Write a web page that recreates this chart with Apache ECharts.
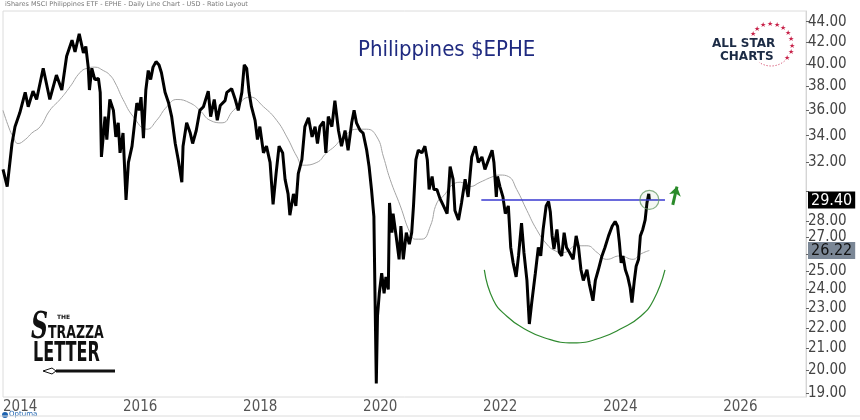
<!DOCTYPE html>
<html>
<head>
<meta charset="utf-8">
<title>Philippines $EPHE</title>
<script src="https://cdn.jsdelivr.net/npm/echarts@6/dist/echarts.min.js"></script>
<style>
html, body { margin: 0; padding: 0; background: #fff; }
#chart { width: 860px; height: 420px; }
</style>
</head>
<body>
<div id="chart"></div>
<script>
// EPHE closes (decimal years)
var priceDates = [2014.00, 2014.07, 2014.15, 2014.20, 2014.28, 2014.37, 2014.42, 2014.50, 2014.56, 2014.67, 2014.78, 2014.89, 2014.98,
	2015.06, 2015.15, 2015.20, 2015.27, 2015.34, 2015.38, 2015.42, 2015.44, 2015.48, 2015.53, 2015.59, 2015.62, 2015.64, 2015.70, 2015.73, 2015.78, 2015.84, 2015.88, 2015.92, 2015.95,
	2016.00, 2016.02, 2016.05, 2016.09, 2016.15, 2016.23, 2016.27, 2016.30, 2016.34, 2016.38, 2016.42, 2016.46, 2016.50, 2016.55, 2016.60, 2016.64, 2016.70, 2016.76, 2016.81, 2016.87, 2016.92, 2016.98,
	2017.00, 2017.06, 2017.12, 2017.16, 2017.22, 2017.28, 2017.34, 2017.42, 2017.46, 2017.52, 2017.57, 2017.62, 2017.70, 2017.73, 2017.81, 2017.87, 2017.92, 2017.98,
	2018.02, 2018.06, 2018.10, 2018.14, 2018.20, 2018.24, 2018.28, 2018.34, 2018.39, 2018.45, 2018.50, 2018.55, 2018.60, 2018.66, 2018.70, 2018.75, 2018.78, 2018.84, 2018.88, 2018.92, 2018.98,
	2019.03, 2019.09, 2019.15, 2019.20, 2019.24, 2019.28, 2019.34, 2019.38, 2019.42, 2019.48, 2019.53, 2019.59, 2019.64, 2019.70, 2019.75, 2019.81, 2019.85, 2019.89, 2019.95,
	2020.00, 2020.06, 2020.10, 2020.14, 2020.18, 2020.20, 2020.22, 2020.24, 2020.27, 2020.31, 2020.35, 2020.38, 2020.42, 2020.44, 2020.48, 2020.50, 2020.55, 2020.60, 2020.63, 2020.67, 2020.72, 2020.77, 2020.81, 2020.84, 2020.88, 2020.92, 2020.98,
	2021.03, 2021.07, 2021.10, 2021.15, 2021.18, 2021.23, 2021.28, 2021.34, 2021.40, 2021.45, 2021.50, 2021.53, 2021.59, 2021.64, 2021.70, 2021.75, 2021.81, 2021.87, 2021.92, 2021.98,
	2022.03, 2022.09, 2022.15, 2022.18, 2022.22, 2022.24, 2022.28, 2022.33, 2022.37, 2022.42, 2022.46, 2022.50, 2022.55, 2022.59, 2022.64, 2022.68, 2022.73, 2022.77, 2022.81, 2022.87, 2022.92, 2022.96,
	2023.00, 2023.05, 2023.09, 2023.12, 2023.15, 2023.18, 2023.23, 2023.27, 2023.31, 2023.35, 2023.39, 2023.44, 2023.50, 2023.55, 2023.59, 2023.63, 2023.67, 2023.73, 2023.77, 2023.83, 2023.87, 2023.92, 2023.98,
	2024.03, 2024.09, 2024.15, 2024.20, 2024.24, 2024.27, 2024.30, 2024.33, 2024.37, 2024.41, 2024.45, 2024.48, 2024.52, 2024.55, 2024.59, 2024.62, 2024.66, 2024.70, 2024.73, 2024.76, 2024.77];
var priceValues = [31.5, 30.3, 33.4, 34.7, 35.8, 37.5, 36.3, 37.6, 36.9, 39.6, 36.9, 39.0, 37.7,
	40.7, 42.2, 41.1, 42.8, 41.0, 41.6, 39.7, 37.7, 39.6, 38.6, 38.7, 37.5, 32.4, 35.5, 33.7, 36.9, 36.0, 33.9, 35.0, 32.7,
	34.2, 32.2, 29.4, 32.0, 33.2, 36.6, 36.0, 37.1, 33.8, 37.7, 39.4, 38.6, 39.7, 40.2, 39.9, 39.2, 37.5, 36.6, 35.5, 33.4, 32.2, 30.6,
	33.2, 35.0, 34.2, 33.4, 34.4, 36.0, 36.3, 37.6, 35.5, 36.9, 35.2, 36.4, 36.8, 37.5, 37.8, 36.9, 36.0, 37.5,
	39.9, 39.6, 37.5, 36.3, 35.2, 33.7, 34.7, 32.7, 33.2, 32.0, 29.1, 31.2, 33.2, 32.7, 30.8, 29.8, 28.4, 29.8, 29.0, 31.2, 32.2,
	34.7, 35.4, 33.9, 34.7, 33.4, 34.7, 35.1, 32.7, 35.5, 34.7, 36.8, 34.4, 33.2, 34.4, 32.9, 35.0, 36.0, 35.0, 34.4,
	34.2, 32.9, 31.7, 30.1, 28.3, 23.4, 19.4, 22.6, 23.8, 24.9, 23.8, 24.7, 24.0, 29.2, 27.3, 28.5, 27.1, 25.7, 27.7, 25.7, 27.3, 26.6, 27.3, 29.0, 32.2, 32.9, 32.7,
	33.2, 32.2, 30.1, 31.0, 30.1, 30.1, 29.5, 29.0, 28.5, 31.7, 30.8, 28.7, 28.1, 29.2, 30.8, 29.6, 32.4, 33.2, 32.0, 32.4,
	31.5, 32.2, 32.9, 32.0, 29.6, 31.0, 30.3, 29.6, 28.5, 29.0, 26.4, 25.5, 24.7, 25.9, 27.9, 26.1, 24.5, 22.2, 23.3, 24.9, 26.4, 25.9,
	27.5, 29.0, 29.3, 28.6, 27.1, 26.3, 27.5, 26.1, 25.9, 27.3, 26.4, 26.1, 25.7, 27.1, 26.4, 25.1, 24.5, 25.1, 24.3, 23.4, 24.5, 25.1, 25.9,
	26.4, 27.1, 27.7, 28.0, 27.7, 26.7, 25.5, 25.9, 25.1, 24.7, 24.1, 23.3, 24.5, 25.3, 25.7, 27.1, 27.5, 28.1, 29.2, 29.8, 29.4];

// 200-day moving average (thin grey line)
var maDates = [2014.00, 2014.10, 2014.17, 2014.25, 2014.37, 2014.48, 2014.62, 2014.78, 2014.95, 2015.12, 2015.28, 2015.40, 2015.53, 2015.67, 2015.78, 2015.87,
	2016.00, 2016.17, 2016.40, 2016.56, 2016.73, 2016.90, 2017.12, 2017.28, 2017.45, 2017.65, 2017.84, 2018.12, 2018.34, 2018.56, 2018.73, 2018.90,
	2019.00, 2019.23, 2019.39, 2019.53, 2019.67, 2019.90, 2020.06, 2020.23, 2020.34, 2020.45, 2020.62, 2020.78, 2020.87, 2020.98,
	2021.12, 2021.23, 2021.37, 2021.45, 2021.62, 2021.78, 2021.95, 2022.17, 2022.28, 2022.42, 2022.56, 2022.73, 2022.89,
	2023.06, 2023.20, 2023.34, 2023.56, 2023.73, 2023.90, 2024.06, 2024.28, 2024.50, 2024.62, 2024.77];
var maValues = [36.0, 34.6, 33.9, 33.4, 33.7, 34.2, 34.7, 36.0, 36.9, 38.0, 39.2, 39.6, 39.7, 39.4, 39.0, 38.3,
	36.9, 35.5, 34.5, 35.2, 36.3, 36.9, 36.6, 36.0, 35.2, 35.0, 36.0, 37.1, 36.3, 35.2, 33.9, 32.4,
	31.8, 32.0, 32.7, 33.2, 33.9, 34.5, 34.5, 33.9, 32.4, 30.8, 29.0, 27.3, 26.9, 26.9,
	27.7, 29.2, 29.8, 30.3, 30.6, 30.3, 30.6, 31.0, 31.1, 31.0, 30.1, 28.7, 27.5,
	26.6, 26.2, 26.1, 26.5, 26.5, 26.1, 25.7, 25.9, 25.7, 26.0, 26.22];

// hand drawn annotations: cup (green arc), breakout level, arrow
var cupDates = [2022.02, 2022.17, 2022.40, 2022.67, 2023.03, 2023.50, 2023.95, 2024.32, 2024.62, 2024.84, 2025.03];
var cupValues = [25.09, 23.44, 22.58, 21.99, 21.51, 21.27, 21.51, 22.0, 22.58, 23.44, 25.09];
var breakoutLevel = 29.4;
var breakoutFrom = 2021.97, breakoutTo = 2025.03;
var arrowDates = [2025.16, 2025.23];
var arrowValues = [29.07, 30.3];

var yearLabels = [2014, 2016, 2018, 2020, 2022, 2024, 2026];
var priceTicks = [19, 20, 21, 22, 23, 24, 25, 27, 28, 32, 34, 36, 38, 40, 42, 44];
var yBottom = 18.82, yTop = 45.08;
var xStart = 2014, xEnd = 2027.38;

var narrow = '"Liberation Sans Narrow", "DejaVu Sans Condensed", sans-serif';

function pairs(xs, ys) {
	var out = [];
	for (var i = 0; i < xs.length; i++) {
		out.push([xs[i], Math.log(ys[i])]);
	}
	return out;
}

function starGraphics() {
	// red star ring of the All Star Charts logo
	var g = [];
	var cx = 771, cy = 45, r = 21;
	for (var a = -150; a <= 40; a += 19) {
		var rad = a * Math.PI / 180;
		g.push({
			type: 'text', x: cx + r * Math.cos(rad), y: cy + r * Math.sin(rad),
			style: { text: '★', fill: '#c8234a', fontSize: 7, align: 'center', verticalAlign: 'middle' }
		});
	}
	g.push({
		type: 'arc', shape: { cx: cx, cy: cy, r: r, startAngle: 50 * Math.PI / 180, endAngle: 125 * Math.PI / 180 },
		style: { stroke: '#c8234a', fill: null, lineWidth: 1, lineDash: [1, 2] }
	});
	return g;
}

function drawChart() {
	var myChart = echarts.init(document.getElementById('chart'));
	var lastPrice = priceValues[priceValues.length - 1];
	var lastMa = maValues[maValues.length - 1];
	var lastDate = priceDates[priceDates.length - 1];
	var lnLast = Math.log(lastPrice), lnMa = Math.log(lastMa);

	var labelVals = priceTicks.map(function (v) { return Math.log(v); });
	labelVals.push(lnMa);
	labelVals.push(lnLast);
	var tickVals = priceTicks.concat([26, 30]).map(function (v) { return Math.log(v); });

	var option = {
		animation: false,
		title: {
			text: 'Philippines $EPHE',
			left: 353,
			top: 34,
			textStyle: { color: '#1f2a80', fontSize: 22, fontWeight: 'normal', fontFamily: narrow }
		},
		grid: {
			left: 3, right: 54, top: 11, bottom: 23,
			show: true, borderColor: '#dcdcdc', borderWidth: 1
		},
		xAxis: {
			type: 'value',
			min: xStart,
			max: xEnd,
			axisLine: { show: false },
			axisTick: { show: false },
			splitLine: { show: false },
			axisLabel: {
				customValues: yearLabels,
				align: 'left',
				margin: 3,
				color: '#555',
				fontSize: 15,
				fontFamily: narrow,
				formatter: function (v) { return String(Math.round(v)); }
			}
		},
		yAxis: {
			type: 'value',
			position: 'right',
			min: Math.log(yBottom),
			max: Math.log(yTop),
			axisLine: { show: true, lineStyle: { color: '#d5d5d5' } },
			axisTick: { show: true, length: 3, customValues: tickVals, lineStyle: { color: '#666' } },
			splitLine: { show: false },
			axisLabel: {
				customValues: labelVals,
				margin: 2,
				color: '#444',
				fontSize: 15,
				fontFamily: narrow,
				formatter: function (v) {
					if (Math.abs(v - lnLast) < 1e-9) return '{last|' + lastPrice.toFixed(2) + '}';
					if (Math.abs(v - lnMa) < 1e-9) return '{ma|' + lastMa.toFixed(2) + '}';
					return Math.round(Math.exp(v)).toFixed(2);
				},
				rich: {
					last: { backgroundColor: '#000', color: '#fff', fontSize: 16, fontFamily: narrow, padding: [1, 3, 0, 3] },
					ma: { backgroundColor: '#7b8796', color: '#111', fontSize: 16, fontFamily: narrow, padding: [1, 3, 0, 3] }
				}
			}
		},
		graphic: [
			{ type: 'text', x: 5, y: 1, style: { text: 'iShares MSCI Philippines ETF - EPHE - Daily Line Chart - USD - Ratio Layout', fill: '#777', fontSize: 6.5, fontFamily: 'DejaVu Sans' } },
			{ type: 'text', x: 712, y: 38, style: { text: 'ALL STAR', fill: '#1c2b45', fontSize: 12, fontWeight: 'bold', fontFamily: 'DejaVu Sans' } },
			{ type: 'text', x: 720, y: 51, style: { text: 'CHARTS', fill: '#1c2b45', fontSize: 12, fontWeight: 'bold', fontFamily: 'DejaVu Sans' } },
			// The Strazza Letter logo
			{ type: 'text', x: 31, y: 309, scaleX: 0.62, style: { text: 'S', fill: '#111', fontSize: 38, fontStyle: 'italic', fontWeight: 'bold', fontFamily: 'DejaVu Serif' } },
			{ type: 'text', x: 57, y: 314, style: { text: 'THE', fill: '#111', fontSize: 6, fontWeight: 'bold', fontFamily: 'DejaVu Sans' } },
			{ type: 'text', x: 48, y: 325, scaleX: 0.82, style: { text: 'TRAZZA', fill: '#111', fontSize: 17, fontWeight: 'bold', fontFamily: narrow } },
			{ type: 'text', x: 33, y: 340, scaleX: 0.66, style: { text: 'LETTER', fill: '#111', fontSize: 27, fontWeight: 'bold', fontFamily: narrow } },
			{ type: 'polygon', shape: { points: [[43, 371], [52, 368], [56, 371], [52, 374]] }, style: { fill: '#fff', stroke: '#111', lineWidth: 1 } },
			{ type: 'line', shape: { x1: 56, y1: 371, x2: 115, y2: 371 }, style: { stroke: '#111', lineWidth: 3 } },
			{ type: 'circle', shape: { cx: 5, cy: 415, r: 3 }, style: { fill: '#1d63b0' } },
			{ type: 'text', x: 9, y: 411, style: { text: 'Optuma', fill: '#1d63b0', fontSize: 7, fontFamily: 'DejaVu Sans' } },
			{ type: 'line', shape: { x1: 0, y1: 416, x2: 860, y2: 416 }, style: { stroke: '#dcdcdc', lineWidth: 1 } }
		].concat(starGraphics()),
		series: [
			{
				name: 'MA',
				type: 'line',
				data: pairs(maDates, maValues),
				symbol: 'none',
				smooth: true,
				lineStyle: { color: '#a3a3a3', width: 1 },
				z: 2
			},
			{
				name: 'EPHE',
				type: 'line',
				data: pairs(priceDates, priceValues),
				symbol: 'none',
				lineStyle: { color: '#000', width: 3 },
				z: 3,
				markLine: {
					silent: true,
					symbol: ['none', 'none'],
					label: { show: false },
					lineStyle: { color: '#3838d0', width: 1.5, type: 'solid' },
					data: [
						[{ coord: [breakoutFrom, Math.log(breakoutLevel)] }, { coord: [breakoutTo, Math.log(breakoutLevel)] }]
					]
				}
			},
			{
				name: 'cup',
				type: 'line',
				data: pairs(cupDates, cupValues),
				symbol: 'none',
				smooth: true,
				clip: false,
				lineStyle: { color: '#2f8a2f', width: 1.2 },
				z: 4,
				markLine: {
					silent: true,
					symbol: ['none', 'arrow'],
					symbolSize: 9,
					label: { show: false },
					lineStyle: { color: '#2a8a2a', width: 3, type: 'solid' },
					data: [
						[{ coord: [arrowDates[0], Math.log(arrowValues[0])] }, { coord: [arrowDates[1], Math.log(arrowValues[1])] }]
					]
				}
			},
			{
				name: 'circle',
				type: 'scatter',
				data: [[lastDate, lnLast]],
				symbol: 'circle',
				symbolSize: 19,
				itemStyle: { color: 'rgba(80,150,80,0.08)', borderColor: '#6a9e6a', borderWidth: 1.2 },
				z: 5
			}
		]
	};

	myChart.setOption(option);
	window.addEventListener('resize', function () {
		myChart.resize();
	});
}

drawChart();
</script>
</body>
</html>
